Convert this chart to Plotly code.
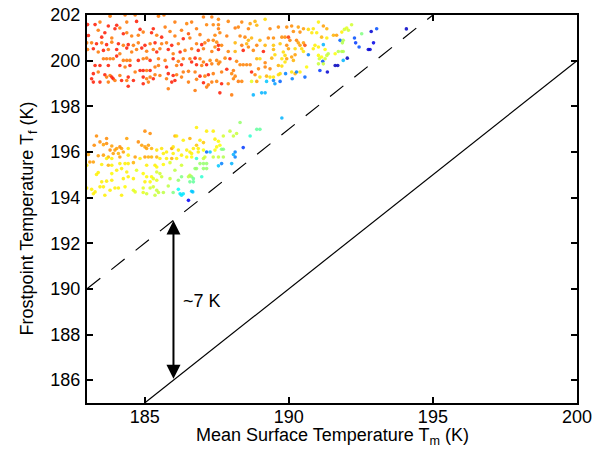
import plotly.graph_objects as go

# ---------------- upper cluster, left part ----------------
ul_x = [183.80,184.32,184.67,185.48,185.67,
        183.02,183.28,183.45,183.74,184.03,184.38,184.72,185.30,185.71,186.05,
        183.05,183.39,183.51,183.62,183.86,183.97,184.14,184.26,184.38,184.55,184.84,184.78,184.95,185.24,185.42,185.59,185.88,186.05,186.28,
        182.99,183.16,183.33,183.51,183.68,183.86,184.09,184.26,184.43,184.61,184.78,185.01,185.19,185.36,185.59,185.76,185.94,186.17,186.34,
        183.02,183.22,183.39,183.57,183.74,184.03,184.14,184.38,184.55,184.72,184.90,185.07,185.30,185.42,185.53,185.82,185.99,186.23,
        183.57,183.68,183.80,183.91,184.03,184.26,184.38,184.49,184.78,184.95,185.07,185.19,185.48,185.71,185.99,186.17,186.34,
        183.28,183.45,183.74,184.14,184.32,184.49,184.84,184.95,185.07,185.19,185.36,185.48,185.76,186.11,186.28,
        183.22,183.39,183.62,183.80,183.91,184.14,184.43,184.67,184.95,185.19,185.36,185.53,185.82,185.99,186.11,186.34,
        183.16,183.45,183.68,183.86,183.97,184.20,184.38,184.61,185.07,185.30,185.76,185.94,186.28,
        183.22,183.74,184.43,184.95,185.13,185.82,186.05]
ul_y = [201.95,202.0,202.0,201.95,202.0,
        201.58,201.58,201.69,201.52,201.55,201.69,201.72,201.40,201.47,201.69,
        201.10,201.33,201.03,201.22,200.99,201.40,201.43,201.18,201.22,201.08,201.37,201.11,201.25,201.22,201.11,201.03,201.28,201.08,201.33,
        200.78,200.78,200.74,200.78,200.70,200.81,200.74,200.67,200.70,200.67,200.78,200.67,200.74,200.78,200.74,200.78,200.67,200.74,200.96,
        200.49,200.52,200.38,200.45,200.49,200.49,200.30,200.55,200.38,200.49,200.55,200.41,200.49,200.38,200.52,200.49,200.30,200.38,
        200.08,200.08,200.08,200.08,200.20,200.01,200.01,200.01,200.01,200.08,200.11,200.01,200.08,200.01,200.08,199.97,200.08,
        199.79,199.79,199.79,199.79,199.72,199.79,199.57,199.57,199.57,199.57,199.72,199.79,199.72,199.79,199.82,
        199.43,199.50,199.38,199.35,199.21,199.35,199.28,199.50,199.28,199.28,199.38,199.35,199.43,199.35,199.38,199.50,
        199.21,199.06,199.28,199.28,199.13,199.13,199.13,199.13,199.21,199.21,199.21,199.06,199.28,
        199.06,199.06,198.88,198.99,199.06,198.77,199.13]
ul_c = [0.76,0.76,0.76,0.76,0.76,
        0.85,0.85,0.76,0.85,0.85,0.76,0.85,0.85,0.76,0.76,
        0.85,0.76,0.85,0.85,0.76,0.85,0.76,0.85,0.76,0.76,0.85,0.76,0.76,0.85,0.76,0.85,0.76,0.76,0.76,
        0.76,0.76,0.85,0.76,0.85,0.76,0.85,0.76,0.85,0.76,0.76,0.85,0.76,0.85,0.76,0.76,0.85,0.76,0.85,
        0.76,0.85,0.76,0.85,0.76,0.85,0.76,0.85,0.76,0.76,0.85,0.76,0.76,0.85,0.76,0.85,0.76,0.85,
        0.76,0.76,0.76,0.76,0.85,0.76,0.76,0.76,0.85,0.76,0.76,0.85,0.76,0.76,0.85,0.76,0.76,
        0.85,0.85,0.85,0.85,0.76,0.85,0.85,0.85,0.76,0.85,0.76,0.76,0.85,0.76,0.85,
        0.85,0.76,0.85,0.76,0.85,0.76,0.85,0.76,0.85,0.76,0.76,0.76,0.85,0.85,0.76,0.76,
        0.85,0.85,0.76,0.85,0.76,0.85,0.76,0.85,0.76,0.85,0.76,0.85,0.76,
        0.85,0.76,0.85,0.85,0.76,0.76,0.85]

# ---------------- upper cluster, middle part ----------------
um_x = [187.04,187.33,187.56,
        186.63,186.46,187.15,187.38,187.56,187.90,188.37,188.66,188.83,188.89,189.18,189.35,188.14,188.25,186.80,187.56,188.60,189.64,
        186.52,186.57,186.92,187.44,187.61,187.85,188.31,188.48,188.71,189.00,189.29,189.47,189.76,189.87,
        186.80,186.98,187.09,187.38,187.21,187.50,187.56,187.67,188.14,188.37,188.54,188.60,188.89,189.18,189.47,189.70,
        186.40,186.63,186.86,187.04,187.33,187.44,187.56,187.90,188.14,188.42,188.60,188.77,189.12,189.47,189.52,189.81,189.87,
        186.57,186.75,186.92,187.04,187.27,187.50,187.61,187.79,187.96,188.19,188.42,188.54,188.66,188.89,189.00,189.18,189.41,189.76,189.87,
        186.63,186.80,186.98,187.15,187.33,187.56,187.85,188.08,188.31,188.71,188.95,189.18,189.35,189.64,189.76,
        186.52,186.75,186.92,187.09,187.21,187.38,187.67,188.02,188.14,188.83,189.00,189.23,189.35,189.47,189.64,189.70,
        186.52,186.80,187.04,187.21,187.33,187.50,187.67,187.90,188.08,188.25,188.37,188.71,188.89,189.23,189.47,189.70,189.52,
        186.75,187.15,187.61,188.02,188.77,189.06,189.18]
um_y = [201.91,201.91,201.81,
        201.69,201.62,201.57,201.57,201.57,201.72,201.69,201.62,201.72,201.55,201.81,201.40,201.43,201.47,201.40,201.40,201.40,201.47,
        201.18,200.99,201.14,201.11,201.22,201.08,201.08,201.03,200.99,200.89,200.99,200.99,201.03,201.03,
        200.74,200.70,200.78,200.89,200.89,200.81,200.67,200.67,200.78,200.67,200.74,200.89,200.67,200.67,200.67,200.74,
        200.45,200.52,200.45,200.52,200.40,200.60,200.49,200.40,200.40,200.45,200.60,200.45,200.40,200.49,200.26,200.38,200.23,
        200.08,200.11,200.08,199.94,200.01,200.01,199.94,200.11,200.08,199.97,199.82,199.82,199.82,200.08,200.08,199.91,200.11,200.08,199.94,
        199.94,199.82,199.79,199.82,199.86,199.86,199.62,199.57,199.82,199.50,199.64,199.72,199.64,199.79,199.76,
        199.53,199.50,199.32,199.32,199.38,199.43,199.50,199.43,199.32,199.38,199.28,199.32,199.28,199.28,199.38,199.43,
        199.06,199.18,199.03,198.94,199.06,199.09,198.99,198.99,199.21,199.09,199.09,199.09,199.09,199.09,199.13,199.09,198.99,
        198.69,198.84,198.59,198.50,198.50,198.59,198.59]
um_c = [0.76,0.76,0.75,
        0.76,0.75,0.75,0.75,0.75,0.75,0.75,0.72,0.70,0.70,0.66,0.75,0.76,0.75,0.76,0.76,0.75,0.74,
        0.80,0.76,0.76,0.75,0.75,0.76,0.75,0.75,0.70,0.70,0.75,0.74,0.74,0.74,
        0.76,0.85,0.76,0.75,0.76,0.75,0.85,0.75,0.70,0.76,0.70,0.70,0.75,0.70,0.68,0.68,
        0.76,0.76,0.85,0.76,0.76,0.75,0.85,0.75,0.70,0.85,0.75,0.75,0.85,0.70,0.66,0.66,0.66,
        0.76,0.85,0.76,0.76,0.75,0.75,0.75,0.75,0.85,0.75,0.75,0.75,0.75,0.70,0.66,0.75,0.70,0.65,0.65,
        0.85,0.85,0.76,0.85,0.76,0.75,0.85,0.76,0.75,0.85,0.75,0.75,0.75,0.70,0.66,
        0.76,0.76,0.85,0.76,0.85,0.76,0.76,0.75,0.75,0.75,0.65,0.70,0.65,0.65,0.66,0.66,
        0.76,0.76,0.85,0.76,0.76,0.75,0.85,0.75,0.75,0.76,0.75,0.60,0.72,0.32,0.25,0.22,0.28,
        0.76,0.76,0.85,0.76,0.30,0.30,0.30]

# ---------------- upper cluster, right part ----------------
ur_x = [191.03,189.93,190.10,190.33,190.51,190.16,190.39,190.68,190.85,190.80,
        191.20,191.32,190.97,191.14,191.32,191.55,191.66,191.93,192.01,192.07,
        191.84,192.18,192.53,192.28,191.78,191.89,191.86,192.86,193.05,192.32,
        192.44,192.94,192.76,192.82,192.03,191.61,191.70,191.34,191.08,191.89,
        191.18,189.99,190.04,190.27,190.33,190.51,190.39,190.56,189.93,189.99,
        190.22,190.45,190.51,191.03,190.91,190.85,191.26,191.20,190.68,190.22,
        190.10,190.16,189.93,191.03,191.14,191.32,191.37,191.61,191.72,191.84,
        191.89,191.06,191.26,191.03,191.20,190.62,190.10,190.22,190.39,189.89,
        190.56,190.12,190.27,194.08]
ur_y = [201.69,201.47,201.52,201.47,201.40,201.28,201.25,201.37,201.40,201.22,
        201.52,201.40,201.22,201.03,200.99,201.11,201.11,201.37,201.43,201.33,
        201.25,201.57,201.18,200.99,200.89,200.89,200.78,201.28,201.40,200.78,
        200.60,200.78,200.49,200.49,200.11,199.79,199.79,199.50,199.57,200.01,
        199.97,201.03,200.89,200.89,200.78,200.78,200.67,200.67,200.67,200.52,
        200.52,200.52,200.40,200.60,200.67,200.52,200.49,200.70,200.26,200.26,
        200.16,200.01,200.08,200.23,200.16,200.23,200.30,200.30,200.40,200.40,
        200.40,200.08,200.08,199.86,199.86,199.72,199.50,199.43,199.50,199.43,
        199.28,199.21,199.50,201.39]
ur_c = [0.64,0.74,0.74,0.72,0.72,0.74,0.74,0.66,0.65,0.65,
        0.72,0.70,0.64,0.70,0.64,0.70,0.72,0.58,0.60,0.58,
        0.64,0.58,0.50,0.20,0.22,0.55,0.55,0.08,0.20,0.18,
        0.20,0.10,0.08,0.08,0.06,0.06,0.06,0.08,0.18,0.30,
        0.20,0.82,0.75,0.75,0.72,0.72,0.72,0.80,0.74,0.72,
        0.66,0.66,0.65,0.64,0.64,0.64,0.63,0.30,0.25,0.72,
        0.72,0.70,0.72,0.63,0.62,0.58,0.56,0.62,0.55,0.55,
        0.55,0.58,0.58,0.57,0.57,0.63,0.65,0.70,0.64,0.25,
        0.22,0.25,0.25,0.07]

# ---------------- lower cluster, left part ----------------
ll_x = [185.01,183.33,183.68,184.38,185.19,186.05,186.11,186.34,
        183.25,183.45,183.57,183.68,183.86,184.03,184.14,184.20,183.80,183.97,183.91,184.09,184.26,184.43,184.78,184.90,185.01,185.13,185.07,185.24,185.42,185.59,185.76,185.94,186.17,185.99,
        183.05,183.39,183.57,183.74,183.68,183.86,184.14,184.43,184.67,184.84,185.01,185.13,185.24,185.42,185.53,185.76,185.94,186.11,186.28,185.65,185.99,
        182.99,183.10,183.22,183.51,183.74,183.86,184.14,184.32,184.43,184.61,185.07,185.36,185.42,185.65,185.88,186.28,
        183.39,183.33,184.03,183.86,184.20,184.38,184.72,184.95,185.07,185.24,185.42,185.53,186.05,
        183.51,183.68,183.86,184.26,184.43,184.61,185.01,185.19,185.30,185.42,185.59,185.88,186.17,186.28,
        182.99,183.16,183.45,183.57,183.80,183.97,184.09,184.32,184.61,184.67,184.95,185.19,185.30,185.42,185.48,185.65,185.82,185.99,186.17,186.23,186.28,186.34,
        183.22,183.28,183.62,184.20,184.95,185.07,185.36]
ll_y = [196.91,196.70,196.59,196.59,196.81,196.70,196.70,196.51,
        196.29,196.44,196.32,196.37,196.26,196.15,196.22,196.15,196.08,196.08,195.93,195.93,196.00,196.15,196.44,196.29,196.22,196.29,196.15,196.15,196.08,196.15,196.00,196.15,196.08,196.22,
        195.89,195.83,195.86,195.78,195.71,195.71,195.78,195.86,195.78,195.71,195.78,195.78,195.78,195.78,195.71,195.71,195.71,195.71,195.86,195.93,195.93,
        195.42,195.56,195.56,195.45,195.42,195.42,195.49,195.49,195.49,195.53,195.42,195.42,195.34,195.45,195.53,195.42,
        195.10,195.01,195.20,195.05,195.27,195.12,195.20,195.05,194.91,194.91,195.12,195.05,195.20,
        194.69,194.72,194.76,194.83,194.91,194.83,194.69,194.69,194.83,194.76,194.91,194.83,194.76,194.91,
        194.42,194.36,194.47,194.47,194.32,194.42,194.42,194.47,194.32,194.25,194.42,194.42,194.47,194.32,194.22,194.22,194.51,194.22,194.36,194.17,194.10,194.17,
        194.17,194.25,194.10,194.10,194.22,194.17,194.10]
ll_c = [0.74,0.74,0.74,0.72,0.74,0.70,0.65,0.64,
        0.74,0.74,0.72,0.74,0.72,0.72,0.74,0.72,0.74,0.72,0.72,0.70,0.72,0.65,0.74,0.72,0.72,0.72,0.72,0.70,0.65,0.65,0.64,0.72,0.64,0.65,
        0.72,0.72,0.72,0.70,0.64,0.64,0.72,0.64,0.72,0.64,0.72,0.70,0.70,0.70,0.64,0.64,0.70,0.64,0.64,0.64,0.64,
        0.64,0.72,0.72,0.64,0.70,0.64,0.64,0.64,0.64,0.70,0.64,0.64,0.63,0.63,0.59,0.58,
        0.64,0.64,0.64,0.63,0.64,0.64,0.60,0.63,0.63,0.63,0.59,0.58,0.56,
        0.64,0.64,0.64,0.64,0.64,0.64,0.64,0.63,0.60,0.60,0.58,0.57,0.52,0.50,
        0.64,0.64,0.64,0.64,0.64,0.64,0.64,0.63,0.60,0.60,0.60,0.58,0.58,0.57,0.57,0.56,0.56,0.50,0.38,0.35,0.35,0.35,
        0.64,0.64,0.64,0.64,0.60,0.58,0.57]

# ---------------- lower cluster, right part ----------------
lr_x = [189.76,188.31,188.89,189.00,186.80,187.15,187.38,187.96,188.19,188.08,
        187.73,188.66,186.57,186.92,187.04,187.44,187.56,186.80,187.61,187.50,
        186.46,186.57,186.63,186.69,186.86,186.86,187.04,187.15,187.27,187.44,
        187.67,187.73,188.42,188.14,188.08,188.14,187.38,187.56,187.73,187.09,
        186.46,186.63,186.80,187.04,186.92,187.04,187.15,187.56,187.67,188.02,
        186.75,186.80,187.04,187.15,186.57,186.52,186.63,186.69,186.98,186.57,
        186.69,186.63,186.67,186.52]
lr_y = [197.49,197.29,196.99,196.99,197.07,196.91,196.91,196.91,196.81,196.70,
        196.70,196.70,196.59,196.51,196.41,196.56,196.47,196.29,196.29,196.22,
        196.08,196.00,195.93,196.15,196.15,196.00,196.08,196.00,196.00,196.08,
        196.12,196.12,196.19,196.00,195.89,195.78,195.78,195.78,195.78,195.78,
        195.78,195.78,195.71,195.71,195.49,195.49,195.49,195.39,195.49,195.49,
        195.27,195.27,195.27,195.27,194.98,194.91,194.91,194.83,194.91,194.69,
        194.69,194.28,194.25,193.88]
lr_c = [0.30,0.52,0.47,0.47,0.64,0.64,0.64,0.57,0.57,0.57,
        0.58,0.42,0.70,0.64,0.68,0.64,0.63,0.68,0.62,0.63,
        0.64,0.64,0.64,0.64,0.64,0.64,0.62,0.22,0.32,0.62,
        0.50,0.50,0.18,0.25,0.30,0.25,0.57,0.57,0.55,0.58,
        0.63,0.62,0.42,0.57,0.52,0.52,0.52,0.32,0.25,0.30,
        0.52,0.52,0.52,0.52,0.56,0.56,0.52,0.48,0.42,0.48,
        0.47,0.32,0.32,0.12]

# ---------------- reference lines and annotation ----------------
equal_x = [185, 200]
equal_y = [185, 200]
offset_x = [183, 195]
offset_y = [190, 202]
arrow_x = 186
arrow_y = [186, 193]
label_pos = (187.0, 189.45)
label_text = "~7 K"
x_title = "Mean Surface Temperature T<sub>m</sub> (K)"
y_title = "Frostpoint Temperature T<sub>f</sub> (K)"
x_ticks = [185, 190, 195, 200]
y_ticks = [186, 188, 190, 192, 194, 196, 198, 200, 202]

for a, b, c in [(ul_x, ul_y, ul_c), (um_x, um_y, um_c), (ur_x, ur_y, ur_c),
                (ll_x, ll_y, ll_c), (lr_x, lr_y, lr_c)]:
    assert len(a) == len(b) == len(c), (len(a), len(b), len(c))

all_x = ul_x + um_x + ur_x + ll_x + lr_x
all_y = ul_y + um_y + ur_y + ll_y + lr_y
all_c = ul_c + um_c + ur_c + ll_c + lr_c

jet = [[0.0, "rgb(0,0,128)"], [0.125, "rgb(0,0,255)"], [0.375, "rgb(0,255,255)"],
       [0.625, "rgb(255,255,0)"], [0.875, "rgb(255,0,0)"], [1.0, "rgb(128,0,0)"]]

FONT = "Liberation Sans, Arial, Helvetica, sans-serif"

fig = go.Figure()
fig.add_trace(go.Scatter(
    x=all_x, y=all_y, mode="markers",
    marker=dict(size=3.6, color=all_c, colorscale=jet, cmin=0, cmax=1,
                line=dict(width=0), opacity=0.85),
    showlegend=False, hoverinfo="skip"))
fig.add_trace(go.Scatter(x=offset_x, y=offset_y, mode="lines",
                         line=dict(color="black", width=1.2, dash="17px,14px"),
                         showlegend=False))
fig.add_trace(go.Scatter(x=equal_x, y=equal_y, mode="lines",
                         line=dict(color="black", width=1.2),
                         showlegend=False))

fig.add_annotation(x=arrow_x, y=arrow_y[1], ax=arrow_x, ay=arrow_y[0],
                   xref="x", yref="y", axref="x", ayref="y",
                   showarrow=True, arrowside="end+start", arrowhead=2,
                   arrowsize=1.4, arrowwidth=2, arrowcolor="black",
                   standoff=0, startstandoff=0, text="")
fig.add_annotation(x=label_pos[0], y=label_pos[1], text=label_text,
                   showarrow=False, xref="x", yref="y",
                   font=dict(size=18, color="black", family=FONT))
fig.add_annotation(x=0.5, y=-0.087, xref="paper", yref="paper", text=x_title,
                   showarrow=False, xanchor="center", yanchor="middle",
                   font=dict(size=18, color="black", family=FONT))
fig.add_annotation(x=-0.119, y=0.475, xref="paper", yref="paper", text=y_title,
                   showarrow=False, xanchor="center", yanchor="middle", textangle=-90,
                   font=dict(size=18, color="black", family=FONT))

axis_common = dict(showgrid=False, zeroline=False, showline=True, linewidth=2,
                   linecolor="black", mirror="ticks", ticks="inside",
                   ticklen=6, tickwidth=2, tickcolor="black", automargin=False,
                   tickfont=dict(size=18, color="black", family=FONT))

fig.update_layout(
    width=600, height=450,
    margin=dict(l=87, r=23, t=15, b=47),
    paper_bgcolor="white", plot_bgcolor="white",
    font=dict(family=FONT, size=18, color="black"),
    xaxis=dict(range=[183, 200], tickvals=x_ticks, ticklabelstandoff=-4, **axis_common),
    yaxis=dict(range=[185, 202], tickvals=y_ticks, ticklabelstandoff=1, **axis_common),
)

fig.write_html("out.html", config={"displayModeBar": False},
               post_script="document.body.style.margin='0';document.body.style.padding='0';")
